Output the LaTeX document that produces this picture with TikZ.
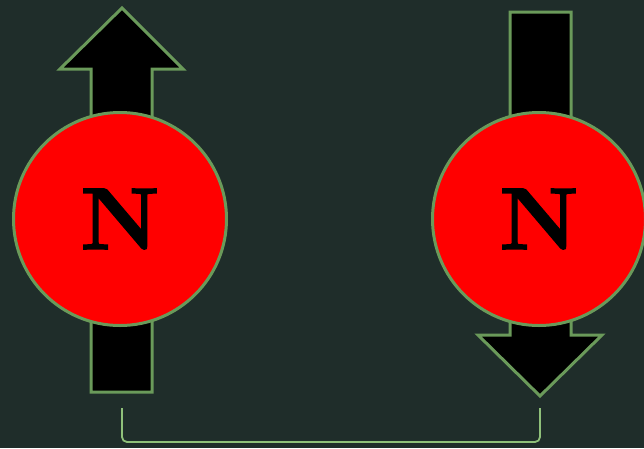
\documentclass[tikz,border=0pt]{standalone}
\usepackage{tikz}
\usepackage{fontspec}
\newfontfamily\polefont[FakeBold=1.6]{lmroman10-bold.otf}
\definecolor{board}{HTML}{1F2D2A}
\definecolor{rim}{HTML}{6A9A5A}
\definecolor{brace}{HTML}{8FC07A}
\tikzset{
  spin/.style={fill=black, draw=rim, line width=3pt, line join=miter},
  pole/.style={circle, fill=red, draw=rim, line width=3pt, minimum size=213pt,
    inner sep=0pt, font=\polefont\fontsize{88}{88}\selectfont},
}

\begin{document}
\begin{tikzpicture}[x=1pt,y=-1pt]
  \fill[board] (0,0) rectangle (644,448);
  \useasboundingbox (0,0) rectangle (644,448);

  % spin up (left)
  \draw[spin] (91,392)--(91,69)--(60,69)--(122,8)--(183,69)--(152,69)--(152,392)--cycle;
  \node[pole] (up) at (120,219) {N};

  % spin down (right)
  \draw[spin] (510,12)--(571,12)--(571,335)--(602,335)--(540,396)--(478,335)--(510,335)--cycle;
  \node[pole] (down) at (539,219) {N};

  % pairing bracket
  \coordinate (bl) at (122,408);
  \coordinate (br) at (540,408);
  \draw[brace, line width=1.8pt, rounded corners=5pt]
    (bl) -- ([yshift=-34pt]bl) -- ([yshift=-34pt]br) -- (br);
\end{tikzpicture}
\end{document}
